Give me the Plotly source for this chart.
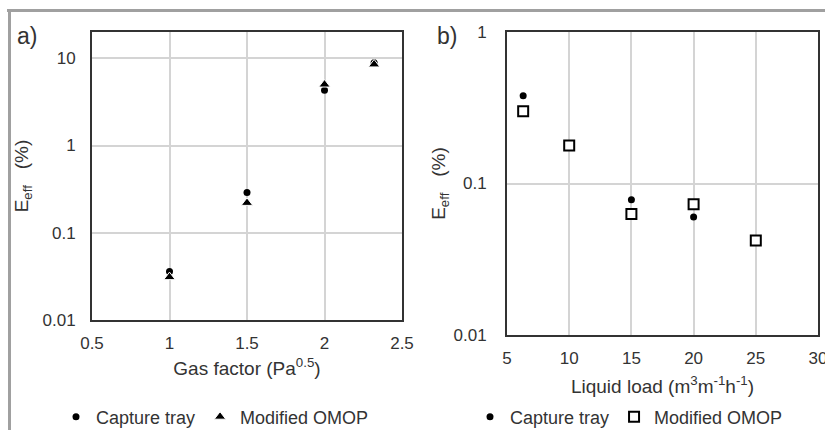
import math
import plotly.graph_objects as go

W, H = 825, 430

# ---- data ----
a_x = [1.0, 1.5, 2.0, 2.32]
a_capture = [0.036, 0.29, 4.3, 8.9]
a_omop = [0.031, 0.22, 5.0, 8.5]

b_capture_x = [6.3, 15, 20]
b_capture = [0.38, 0.078, 0.060]
b_omop_x = [6.3, 10, 15, 20, 25]
b_omop = [0.30, 0.178, 0.063, 0.073, 0.042]

a_xticks = [0.5, 1, 1.5, 2, 2.5]
a_xticklabels = ["0.5", "1", "1.5", "2", "2.5"]
b_xticks = [5, 10, 15, 20, 25, 30]
b_xticklabels = ["5", "10", "15", "20", "25", "30"]
a_yticks = [0.01, 0.1, 1, 10]
a_yticklabels = ["0.01", "0.1", "1", "10"]
b_yticks = [0.01, 0.1, 1]
b_yticklabels = ["0.01", "0.1", "1"]

series_names = ["Capture tray", "Modified OMOP"]

FONT = "Liberation Sans, Arial, sans-serif"
TXT = "#333333"

def px_x(p):
    return p / W

def px_y(p):
    return 1 - p / H

fig = go.Figure()

# Panel a
fig.add_trace(go.Scatter(x=a_x, y=a_capture, mode="markers", name=series_names[0],
                         marker=dict(symbol="circle", size=7, color="black"),
                         xaxis="x", yaxis="y", legend="legend"))
fig.add_trace(go.Scatter(x=a_x, y=a_omop, mode="markers", name=series_names[1],
                         marker=dict(symbol="triangle-up", size=10, color="black",
                                     line=dict(color="white", width=1)),
                         xaxis="x", yaxis="y", legend="legend"))
# Panel b
fig.add_trace(go.Scatter(x=b_capture_x, y=b_capture, mode="markers", name=series_names[0],
                         marker=dict(symbol="circle", size=7, color="black"),
                         xaxis="x2", yaxis="y2", legend="legend2"))
fig.add_trace(go.Scatter(x=b_omop_x, y=b_omop, mode="markers", name=series_names[1],
                         marker=dict(symbol="square", size=10, color="white",
                                     line=dict(color="black", width=2)),
                         xaxis="x2", yaxis="y2", legend="legend2"))

axis_common = dict(showline=True, mirror=True, linecolor="#333333", linewidth=2,
                   showgrid=True, gridcolor="#d4d4d4", gridwidth=1.5,
                   zeroline=False, ticks="", automargin=False,
                   ticklabeloverflow="allow",
                   tickfont=dict(size=17, color=TXT, family=FONT))

xtitle_font = dict(size=19, color=TXT, family=FONT)
ytitle_font = dict(size=19, color=TXT, family=FONT)
ytitle = "E<sub>eff</sub>\u00a0\u00a0\u00a0(%)"
legend_font = dict(size=18, color=TXT, family=FONT)

fig.update_layout(
    width=W, height=H,
    margin=dict(l=0, r=0, t=0, b=0, autoexpand=False),
    paper_bgcolor="white", plot_bgcolor="white",
    font=dict(family=FONT, color=TXT, size=17),
    xaxis=dict(domain=[px_x(92), px_x(402)], range=[0.5, 2.5], tickvals=a_xticks,
               ticktext=a_xticklabels, anchor="y", ticklabelstandoff=7,
               title=dict(text="Gas factor (Pa<sup>0.5</sup>)", standoff=9, font=xtitle_font),
               **axis_common),
    yaxis=dict(domain=[px_y(320), px_y(32)], type="log", range=[-2, math.log10(20)],
               tickvals=a_yticks, ticktext=a_yticklabels, anchor="x", ticklabelstandoff=11,
               title=dict(text=ytitle, standoff=9, font=ytitle_font), **axis_common),
    xaxis2=dict(domain=[px_x(507), px_x(818)], range=[5, 30], tickvals=b_xticks,
                ticktext=b_xticklabels, anchor="y2", ticklabelstandoff=7,
                title=dict(text="Liquid load (m<sup>3</sup>m<sup>-1</sup>h<sup>-1</sup>)",
                           standoff=12, font=xtitle_font),
                **axis_common),
    yaxis2=dict(domain=[px_y(335), px_y(32)], type="log", range=[-2, 0],
                tickvals=b_yticks, ticktext=b_yticklabels, anchor="x2", ticklabelstandoff=15,
                title=dict(text=ytitle, standoff=3, font=ytitle_font), **axis_common),
    legend=dict(orientation="h", x=px_x(56), y=px_y(417), xanchor="left", yanchor="middle",
                font=legend_font, itemwidth=30,
                bgcolor="rgba(0,0,0,0)"),
    legend2=dict(orientation="h", x=px_x(470), y=px_y(417), xanchor="left", yanchor="middle",
                 font=legend_font, itemwidth=30,
                 bgcolor="rgba(0,0,0,0)"),
    shapes=[
        dict(type="line", xref="paper", yref="paper", x0=px_x(7), x1=1.0,
             y0=px_y(10.5), y1=px_y(10.5), line=dict(color="#a0a0a0", width=3)),
        dict(type="line", xref="paper", yref="paper", x0=px_x(9.5), x1=px_x(9.5),
             y0=px_y(9), y1=0, line=dict(color="#a0a0a0", width=3)),
    ],
    annotations=[
        dict(text="a)", xref="paper", yref="paper", x=px_x(27), y=px_y(36),
             xanchor="center", yanchor="middle", showarrow=False,
             font=dict(size=23, color=TXT, family=FONT)),
        dict(text="b)", xref="paper", yref="paper", x=px_x(447), y=px_y(36),
             xanchor="center", yanchor="middle", showarrow=False,
             font=dict(size=23, color=TXT, family=FONT)),
    ],
)

fig.write_html("out.html")
